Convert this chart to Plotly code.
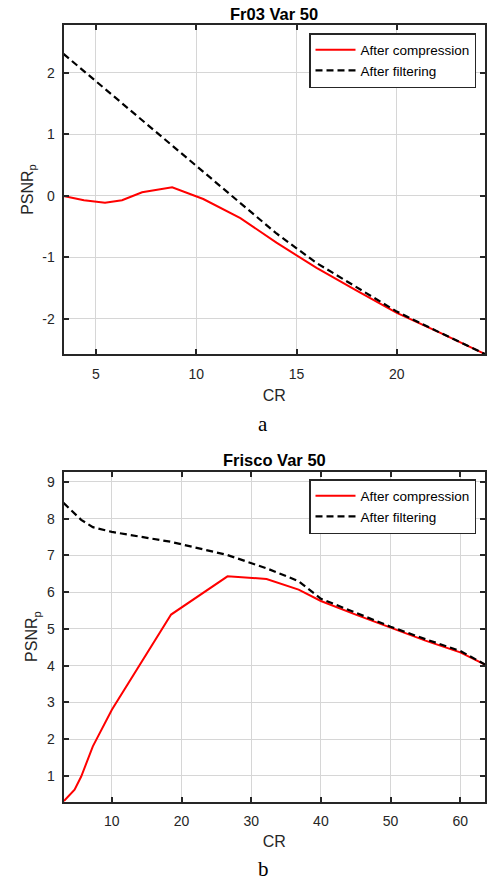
import plotly.graph_objects as go

# ---- Panel a: Fr03 Var 50 ----
cr_a = [3.38, 4.4, 5.45, 6.3, 7.3, 8.8, 10.35, 12.2, 14.0, 16.0, 18.0, 20.0, 22.2, 24.4]
comp_a = [0.0, -0.07, -0.11, -0.07, 0.06, 0.14, -0.05, -0.36, -0.76, -1.17, -1.54, -1.90, -2.23, -2.57]
filt_a = [2.31, 2.03, 1.74, 1.50, 1.23, 0.82, 0.39, -0.12, -0.61, -1.09, -1.49, -1.88, -2.23, -2.57]
xticks_a = [5, 10, 15, 20]
yticks_a = [-2, -1, 0, 1, 2]
yrange_a = [-2.57, 2.78]

# ---- Panel b: Frisco Var 50 ----
cr_b = [3.06, 4.65, 5.6, 7.27, 10.0, 18.5, 26.6, 32.2, 36.8, 40.0, 45.0, 50.0, 55.0, 60.0, 63.55]
comp_b = [0.30, 0.62, 0.98, 1.80, 2.80, 5.39, 6.43, 6.36, 6.07, 5.76, 5.39, 5.03, 4.68, 4.36, 4.03]
filt_b = [8.43, 8.13, 7.97, 7.77, 7.64, 7.37, 7.01, 6.65, 6.30, 5.82, 5.44, 5.06, 4.72, 4.40, 4.03]
xticks_b = [10, 20, 30, 40, 50, 60]
yticks_b = [1, 2, 3, 4, 5, 6, 7, 8, 9]
yrange_b = [0.30, 9.28]

titles = ["Fr03 Var 50", "Frisco Var 50"]
panel_labels = ["a", "b"]
series_names = ["After compression", "After filtering"]

W, H = 487, 884
FONT = "Liberation Sans, Arial, sans-serif"
INK = "#262626"
GRID = "#d6d6d6"

def px_x(p):
    return p / W

def px_y(p):
    return 1 - p / H

fig = go.Figure()

red = dict(color="#ff0000", width=2)
blk = dict(color="#000000", width=2.2, dash="7px,4px")

fig.add_trace(go.Scatter(x=cr_a, y=comp_a, mode="lines", line=red, name=series_names[0],
                         xaxis="x", yaxis="y", legend="legend"))
fig.add_trace(go.Scatter(x=cr_a, y=filt_a, mode="lines", line=blk, name=series_names[1],
                         xaxis="x", yaxis="y", legend="legend"))
fig.add_trace(go.Scatter(x=cr_b, y=comp_b, mode="lines", line=red, name=series_names[0],
                         xaxis="x2", yaxis="y2", legend="legend2"))
fig.add_trace(go.Scatter(x=cr_b, y=filt_b, mode="lines", line=blk, name=series_names[1],
                         xaxis="x2", yaxis="y2", legend="legend2"))

xdom = [px_x(63.5), px_x(485)]
ydom_a = [px_y(354), px_y(25)]
ydom_b = [px_y(801.5), px_y(471.7)]

def axis_common():
    return dict(
        showline=True, linecolor=INK, linewidth=2, mirror="ticks",
        ticks="inside", ticklen=5, tickwidth=1.5, tickcolor=INK,
        showgrid=True, gridcolor=GRID, gridwidth=1, zeroline=False,
        tickfont=dict(family=FONT, size=14, color=INK),
        automargin=False,
    )

def tt(vals):
    return [str(v) for v in vals]

leg_common = dict(xanchor="right", yanchor="top",
                  bgcolor="white", bordercolor=INK, borderwidth=1.5,
                  font=dict(family=FONT, size=13.5, color="#000000"),
                  tracegroupgap=0, itemwidth=40)

fig.update_layout(
    width=W, height=H,
    margin=dict(l=0, r=0, t=0, b=0),
    paper_bgcolor="white", plot_bgcolor="white",
    showlegend=True,
    xaxis=dict(domain=xdom, range=[min(cr_a), max(cr_a)], anchor="y",
               tickvals=xticks_a, ticktext=tt(xticks_a), ticklabelstandoff=6,
               title=dict(text="CR", font=dict(family=FONT, size=16, color=INK), standoff=9),
               **axis_common()),
    yaxis=dict(domain=ydom_a, range=yrange_a, anchor="x",
               tickvals=yticks_a, ticktext=tt(yticks_a), ticklabelstandoff=4,
               title=dict(text="PSNR<sub>p</sub>", font=dict(family=FONT, size=16, color=INK), standoff=5),
               **axis_common()),
    xaxis2=dict(domain=xdom, range=[min(cr_b), max(cr_b)], anchor="y2",
                tickvals=xticks_b, ticktext=tt(xticks_b), ticklabelstandoff=6,
                title=dict(text="CR", font=dict(family=FONT, size=16, color=INK), standoff=8),
                **axis_common()),
    yaxis2=dict(domain=ydom_b, range=yrange_b, anchor="x2",
                tickvals=yticks_b, ticktext=tt(yticks_b), ticklabelstandoff=4,
                title=dict(text="PSNR<sub>p</sub>", font=dict(family=FONT, size=16, color=INK), standoff=5),
                **axis_common()),
    legend=dict(x=px_x(476), y=px_y(33), **leg_common),
    legend2=dict(x=px_x(476), y=px_y(479), **leg_common),
)

xc = (xdom[0] + xdom[1]) / 2
title_font = dict(family=FONT, size=16.5, color="#000000", weight="bold")
lab_font = dict(family="Liberation Serif, Times New Roman, serif", size=21, color="#000000")
annos = [
    dict(text=titles[0], x=xc, y=px_y(14), xref="paper", yref="paper", xanchor="center",
         yanchor="middle", showarrow=False, font=title_font),
    dict(text=titles[1], x=xc, y=px_y(460), xref="paper", yref="paper", xanchor="center",
         yanchor="middle", showarrow=False, font=title_font),
    dict(text=panel_labels[0], x=px_x(263), y=px_y(424), xref="paper", yref="paper", xanchor="center",
         yanchor="middle", showarrow=False, font=lab_font),
    dict(text=panel_labels[1], x=px_x(263), y=px_y(869), xref="paper", yref="paper", xanchor="center",
         yanchor="middle", showarrow=False, font=lab_font),
]
fig.update_layout(annotations=annos)

fig.write_html(
    "out.html",
    config={"displayModeBar": False},
    post_script="document.documentElement.style.margin='0';document.body.style.margin='0';document.body.style.padding='0';document.body.style.overflow='hidden';",
)
